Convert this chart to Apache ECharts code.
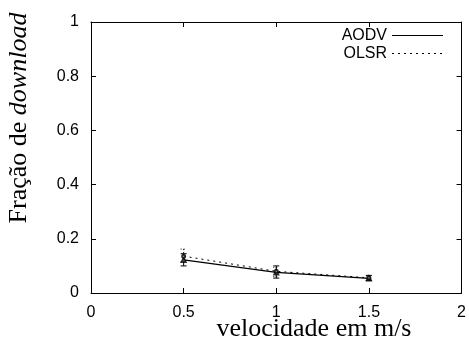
<!DOCTYPE html>
<html><head><meta charset="utf-8">
<script src="https://cdn.jsdelivr.net/npm/echarts@6/dist/echarts.min.js"></script>
<style>html,body{margin:0;padding:0;background:#fff}#c{width:469px;height:349px}</style>
</head><body><div id="c"></div>
<script>
var speeds = [0.5, 1, 1.5];
var aodv = [0.122, 0.076, 0.054];
var aodvLow = [0.100, 0.055, 0.045];
var aodvHigh = [0.145, 0.100, 0.065];
var olsr = [0.136, 0.080, 0.056];
var olsrLow = [0.115, 0.060, 0.046];
var olsrHigh = [0.162, 0.095, 0.063];
var xTicks = [0, 0.5, 1, 1.5, 2];
var yTicks = [0, 0.2, 0.4, 0.6, 0.8, 1];
var seriesNames = ['AODV', 'OLSR'];

var chart = echarts.init(document.getElementById('c'), null, {renderer: 'canvas'});
function pairs(xs, ys) { return xs.map(function (x, i) { return [x, ys[i]]; }); }
function errData(xs, lo, hi) { return xs.map(function (x, i) { return [x, lo[i], hi[i]]; }); }
function errRender(dash) {
  return function (params, api) {
    var top = api.coord([api.value(0), api.value(2)]);
    var bot = api.coord([api.value(0), api.value(1)]);
    var w = 3;
    var st = {stroke: '#000', lineWidth: 1, lineDash: dash};
    return {type: 'group', children: [
      {type: 'line', shape: {x1: top[0], y1: top[1], x2: bot[0], y2: bot[1]}, style: st},
      {type: 'line', shape: {x1: top[0] - w, y1: top[1], x2: top[0] + w, y2: top[1]}, style: st},
      {type: 'line', shape: {x1: bot[0] - w, y1: bot[1], x2: bot[0] + w, y2: bot[1]}, style: st}
    ]};
  };
}
var sans = 'Liberation Sans, Arial, sans-serif';
var serif = 'Liberation Serif, DejaVu Serif, serif';
var tickFont = {fontFamily: sans, fontSize: 16, color: '#000'};
function axisCommon() {
  return {
    axisLine: {show: true, onZero: false, lineStyle: {color: '#000', width: 1}},
    axisTick: {show: true, inside: true, length: 5, lineStyle: {color: '#000'}},
    splitLine: {show: false}
  };
}
function fmt(v) { return String(v); }
function legendItem(name, y, dash) {
  return [
    {type: 'text', x: 387, y: y + 1, silent: true,
      style: {text: name, font: '16px ' + sans, fill: '#000', textAlign: 'right', textVerticalAlign: 'middle'}},
    {type: 'line', silent: true, shape: {x1: 392, y1: y + 0.5, x2: 443, y2: y + 0.5},
      style: {stroke: '#000', lineWidth: 1, lineDash: dash}}
  ];
}
chart.setOption({
  animation: false,
  backgroundColor: '#fff',
  grid: {left: 91, right: 6, top: 22, bottom: 56},
  graphic: [
    {type: 'text', x: 314, y: 329, silent: true,
      style: {text: 'velocidade em m/s', font: '26px ' + serif, fill: '#000', textAlign: 'center', textVerticalAlign: 'middle'}},
    {type: 'text', x: 19, y: 118, rotation: Math.PI / 2, silent: true,
      style: {text: '{n|Fração de }{i|download}', textAlign: 'center', textVerticalAlign: 'middle',
        rich: {
          n: {fontFamily: serif, fontSize: 26, fill: '#000'},
          i: {fontFamily: serif, fontSize: 26, fontStyle: 'italic', fill: '#000'}
        }}}
  ].concat(legendItem(seriesNames[0], 35, null), legendItem(seriesNames[1], 53, [2, 4])),
  xAxis: [
    Object.assign({type: 'value', min: xTicks[0], max: xTicks[xTicks.length - 1], interval: 0.5, position: 'bottom',
      axisLabel: Object.assign({margin: 12, formatter: fmt}, tickFont)}, axisCommon()),
    Object.assign({type: 'value', min: xTicks[0], max: xTicks[xTicks.length - 1], interval: 0.5, position: 'top',
      axisLabel: {show: false}}, axisCommon())
  ],
  yAxis: [
    Object.assign({type: 'value', min: yTicks[0], max: yTicks[yTicks.length - 1], interval: 0.2, position: 'left',
      axisLabel: Object.assign({margin: 12, formatter: fmt}, tickFont)}, axisCommon()),
    Object.assign({type: 'value', min: yTicks[0], max: yTicks[yTicks.length - 1], interval: 0.2, position: 'right',
      axisLabel: {show: false}}, axisCommon())
  ],
  series: [
    {name: seriesNames[0], type: 'line', data: pairs(speeds, aodv), symbol: 'none',
      lineStyle: {color: '#000', width: 1.3, type: 'solid'}, z: 3},
    {name: seriesNames[1], type: 'line', data: pairs(speeds, olsr), symbol: 'none',
      lineStyle: {color: '#000', width: 1, type: [2, 4]}, z: 3},
    {type: 'scatter', data: pairs(speeds, aodv), symbol: 'emptyTriangle', symbolSize: 4,
      itemStyle: {color: '#000', borderColor: '#000'}, z: 4},
    {type: 'scatter', data: pairs(speeds, olsr), symbol: 'emptyCircle', symbolSize: 3,
      itemStyle: {color: '#000', borderColor: '#000'}, z: 4},
    {type: 'custom', data: errData(speeds, aodvLow, aodvHigh), renderItem: errRender(null), z: 4},
    {type: 'custom', data: errData(speeds, olsrLow, olsrHigh), renderItem: errRender([1, 2]), z: 4}
  ]
});
</script></body></html>
